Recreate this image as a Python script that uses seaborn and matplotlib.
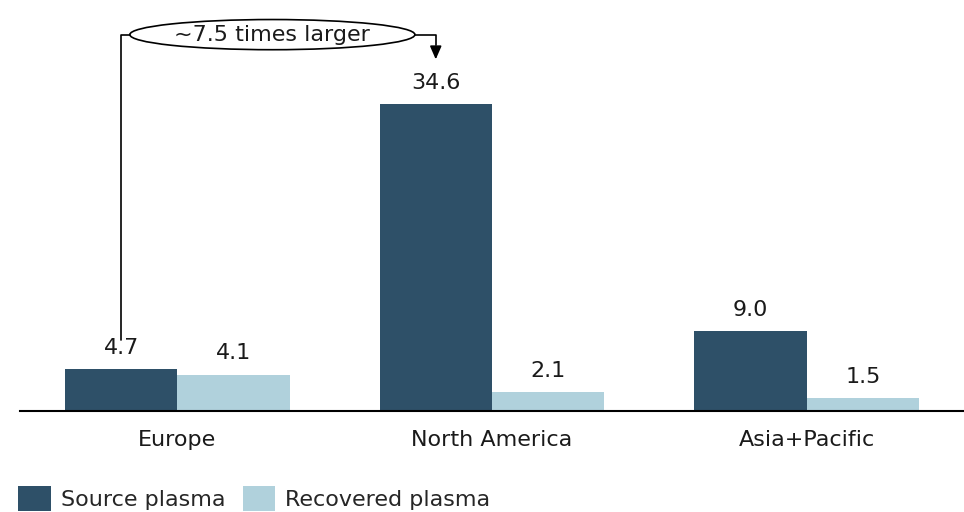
import pandas as pd
import matplotlib.pyplot as plt
import seaborn as sns
from matplotlib.patches import Ellipse

# Data
regions = ["Europe", "North America", "Asia+Pacific"]
source_vals = [4.7, 34.6, 9.0]
recovered_vals = [4.1, 2.1, 1.5]
series = ["Source plasma", "Recovered plasma"]
colors = ["#2E5068", "#B0D1DC"]

df = pd.DataFrame({
    "region": regions * 2,
    "value": source_vals + recovered_vals,
    "type": [series[0]] * 3 + [series[1]] * 3,
})

sns.set_style("white")
plt.rcParams['font.family'] = ['DejaVu Sans']

fig = plt.figure(figsize=(9.64, 5.12), dpi=100)
ax = fig.add_axes([20 / 964, 101 / 512, 944 / 964, 411 / 512])
sns.barplot(data=df, x="region", y="value", hue="type", palette=colors,
            width=0.715, gap=0, saturation=1, linewidth=0, ax=ax, legend=True)

for c in ax.containers:
    ax.bar_label(c, fmt="%.1f", padding=8, fontsize=16, color="#1a1a1a")

ax.set_xlim(-0.5, 2.5)
ax.set_ylim(0, 46.3)
ax.set_xlabel("")
ax.set_ylabel("")
ax.set_yticks([])
ax.tick_params(axis="x", labelsize=16, length=0, pad=14, colors="#1a1a1a")
for s in ["top", "right", "left"]:
    ax.spines[s].set_visible(False)
ax.spines["bottom"].set_color("black")
ax.spines["bottom"].set_linewidth(1.5)

# annotation: from Europe source bar to North America source bar
eu = ax.containers[0][0]
na = ax.containers[0][1]
x0 = eu.get_x() + eu.get_width() / 2
x1 = na.get_x() + na.get_width() / 2
ey = 42.4
ex, ew, eh = 0.302, 0.906, 3.4
ax.plot([x0, x0, ex - ew / 2], [source_vals[0] + 3.3, ey, ey], color="black", lw=1.2, clip_on=False)
ax.add_patch(Ellipse((ex, ey), ew, eh, fill=False, edgecolor="black", lw=1.2, clip_on=False))
ax.text(ex, ey, "~7.5 times larger", ha="center", va="center", fontsize=16, color="#1a1a1a")
ax.plot([ex + ew / 2, x1, x1], [ey, ey, ey - 1.2], color="black", lw=1.2)
ax.annotate("", xy=(x1, source_vals[1] + 4.7), xytext=(x1, ey - 1.0),
            arrowprops=dict(arrowstyle="-|>,head_width=0.35,head_length=0.8", color="black", lw=1.2))

leg = ax.legend(loc="lower left", bbox_to_anchor=(-6 / 944, -104 / 411), ncol=2, frameon=False,
                fontsize=16, handlelength=1.45, handleheight=1.3, handletextpad=0.45,
                columnspacing=0.8, borderaxespad=0.1, borderpad=0.1)

fig.savefig("out.png", dpi=100)
